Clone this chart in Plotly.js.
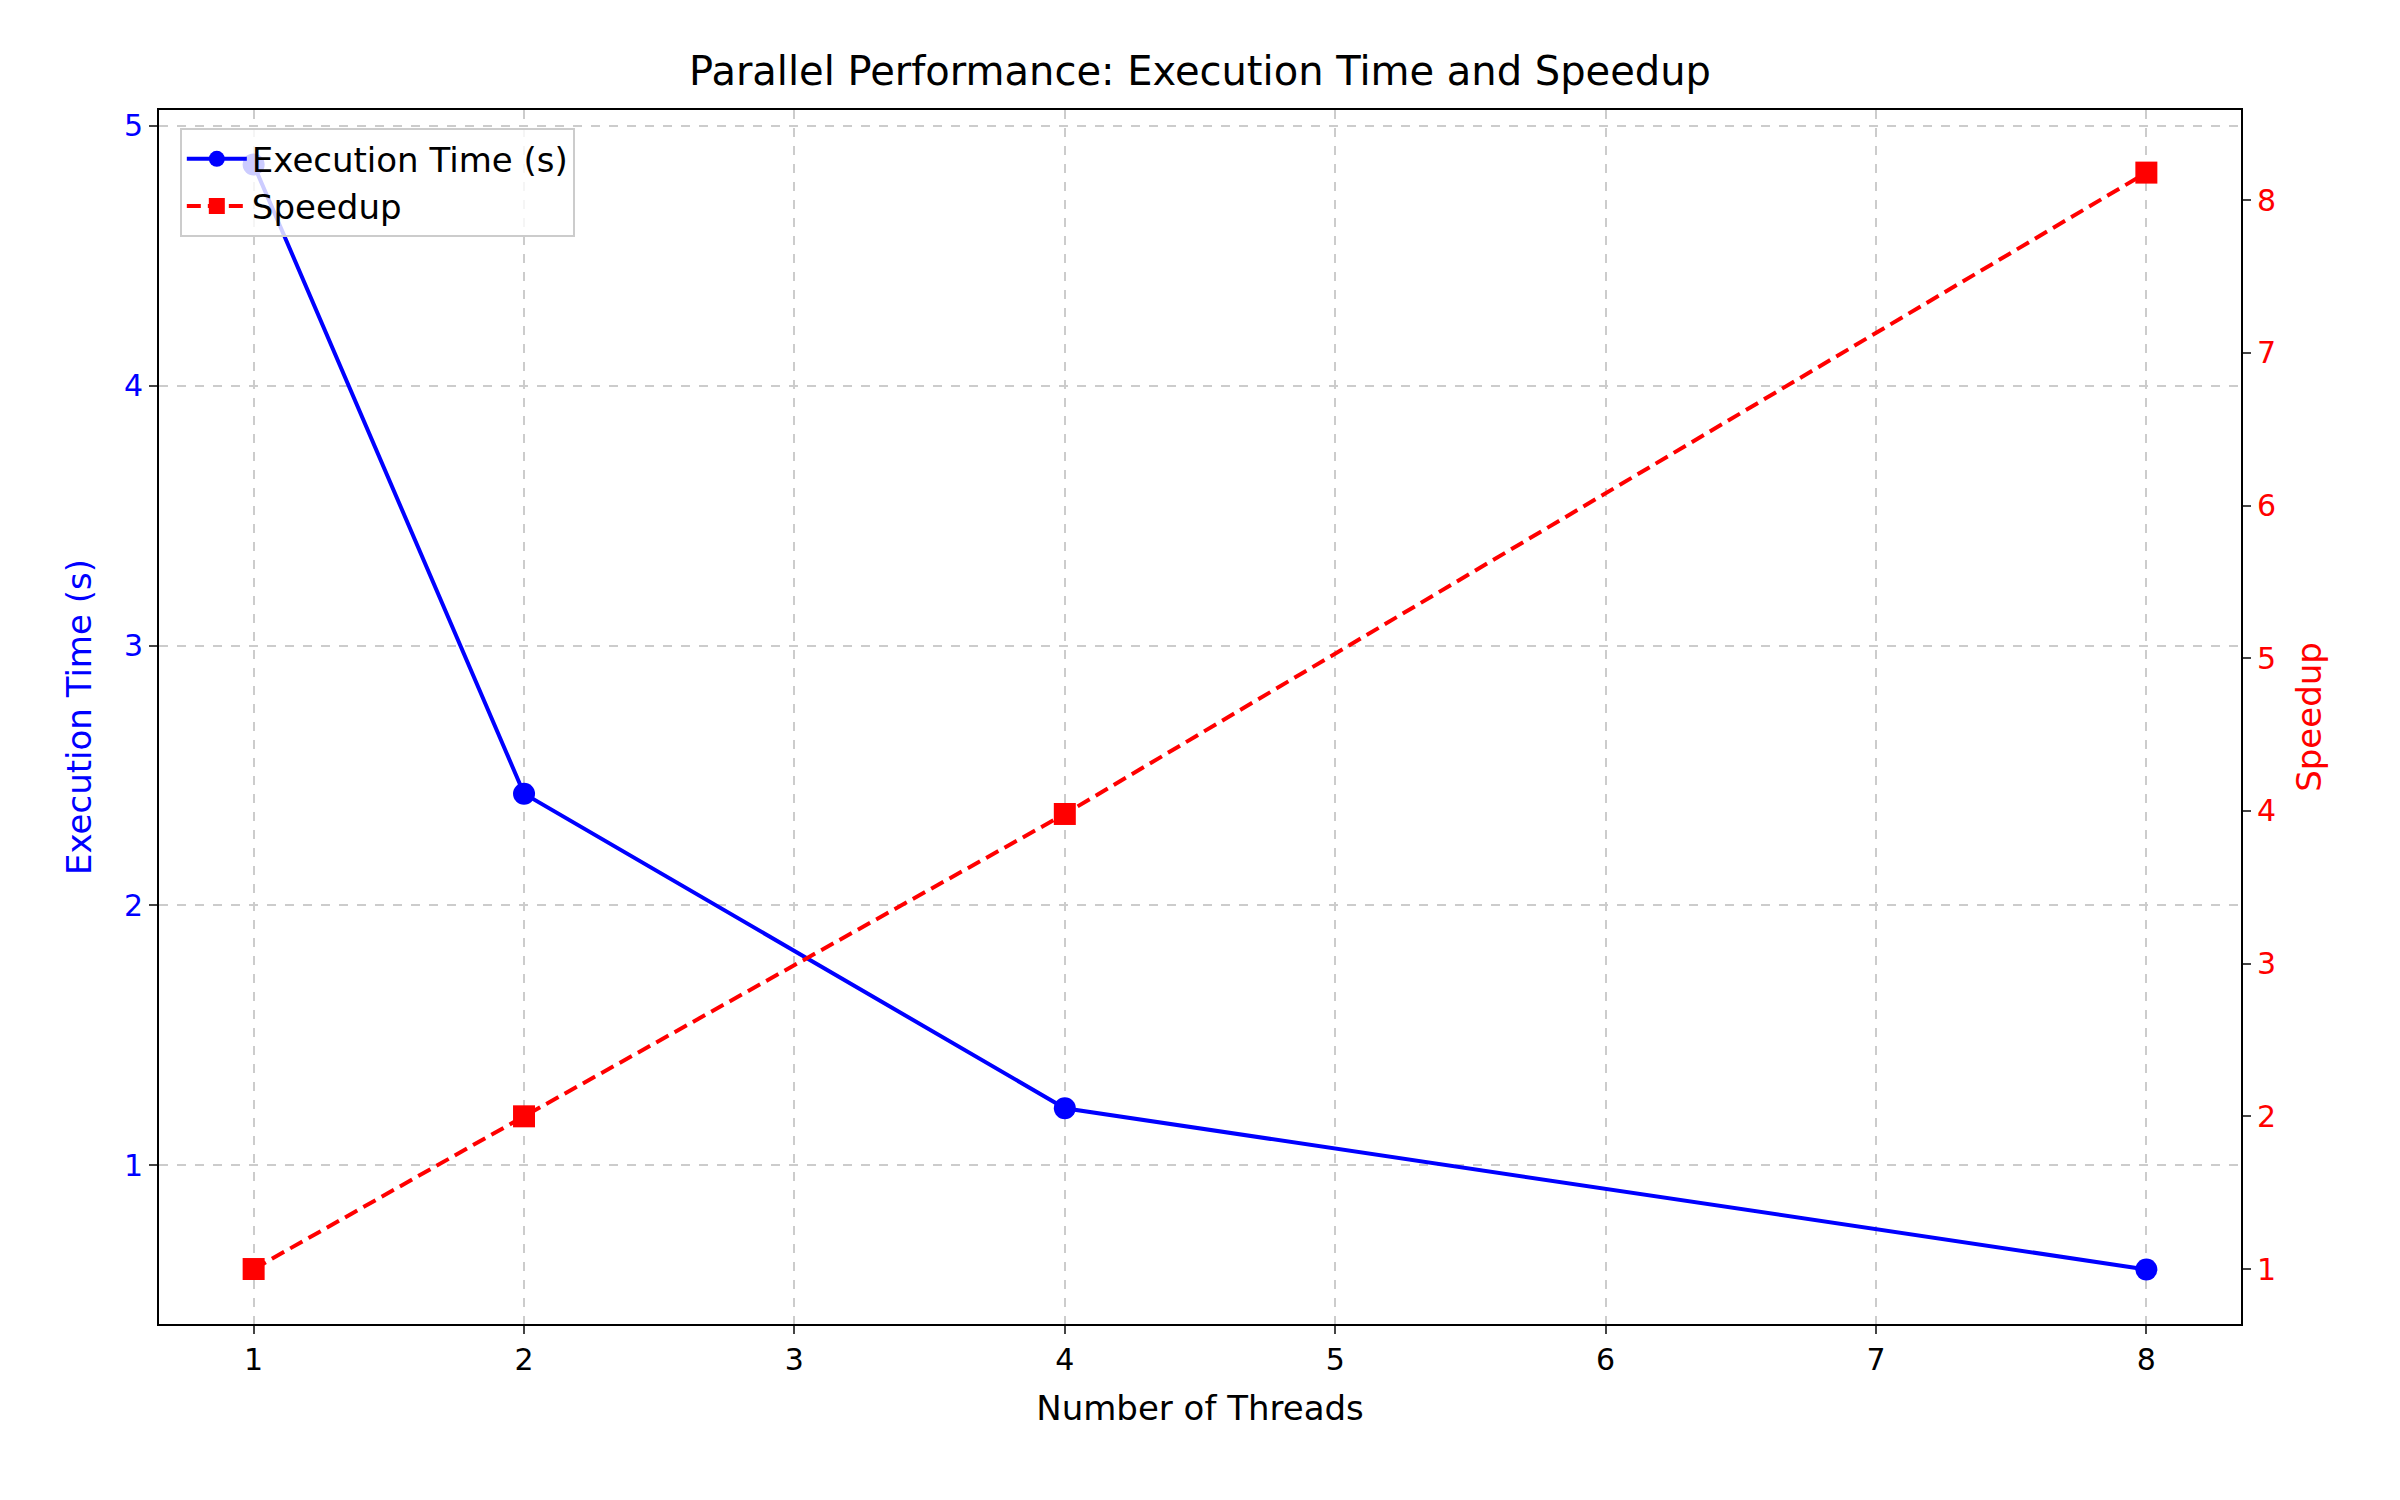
<!DOCTYPE html>
<html>
<head>
<meta charset="utf-8">
<script src="https://cdn.plot.ly/plotly-3.0.1.min.js"></script>
<style>html,body{margin:0;padding:0;background:#fff}#chart{width:2400px;height:1500px}</style>
</head>
<body>
<div id="chart"></div>
<script>
// ---- Data ----
const threads = [1, 2, 4, 8];
const execTime = [4.85, 2.43, 1.22, 0.6];
const speedup = [1.0, 2.0, 3.98, 8.18];
const xTicks = [1, 2, 3, 4, 5, 6, 7, 8];

const grid = '#cccccc';
const font = 'DejaVu Sans, sans-serif';

const timeTrace = {
  x: threads, y: execTime, name: 'Execution Time (s)',
  type: 'scatter', mode: 'lines+markers',
  line: { color: '#0000ff', width: 4 },
  marker: { color: '#0000ff', size: 22, symbol: 'circle' }
};

const speedupTrace = {
  x: threads, y: speedup, name: 'Speedup', yaxis: 'y2',
  type: 'scatter', mode: 'lines+markers',
  line: { color: '#ff0000', width: 4, dash: '14px,7px' },
  marker: { color: '#ff0000', size: 22, symbol: 'square' }
};

const layout = {
  width: 2400, height: 1500,
  paper_bgcolor: '#fff', plot_bgcolor: '#fff',
  font: { family: font, size: 30, color: '#000' },
  margin: { l: 159, r: 159, t: 110, b: 176 },
  title: { text: 'Parallel Performance: Execution Time and Speedup', font: { size: 40 }, x: 0.5, y: 0.953, yanchor: 'middle' },
  showlegend: true,
  legend: {
    x: 0.01, y: 0.985, xanchor: 'left', yanchor: 'top',
    bgcolor: 'rgba(255,255,255,0.8)', bordercolor: '#cccccc', borderwidth: 2,
    font: { size: 34 }, itemwidth: 60
  },
  xaxis: {
    range: [0.65, 8.35], tickvals: xTicks,
    showgrid: true, gridcolor: grid, griddash: 'dash', gridwidth: 1.5,
    showline: true, linecolor: '#000', linewidth: 2, mirror: true,
    ticks: 'outside', ticklen: 8, tickwidth: 1.5, zeroline: false,
    title: { text: 'Number of Threads', font: { size: 34 }, standoff: 20 }
  },
  yaxis: {
    range: [0.39, 5.06], tickvals: [1, 2, 3, 4, 5],
    showgrid: true, gridcolor: grid, griddash: 'dash', gridwidth: 1.5,
    showline: true, linecolor: '#000', linewidth: 2,
    ticks: 'outside', ticklen: 8, tickwidth: 1.5, zeroline: false,
    tickfont: { color: '#0000ff', size: 30 },
    title: { text: 'Execution Time (s)', font: { color: '#0000ff', size: 34 }, standoff: 22 }
  },
  yaxis2: {
    overlaying: 'y', side: 'right',
    range: [0.64, 8.59], tickvals: [1, 2, 3, 4, 5, 6, 7, 8],
    showgrid: false, showline: true, linecolor: '#000', linewidth: 2,
    ticks: 'outside', ticklen: 8, tickwidth: 1.5, zeroline: false,
    tickfont: { color: '#ff0000', size: 30 },
    title: { text: 'Speedup', font: { color: '#ff0000', size: 34 }, standoff: 22 }
  }
};

Plotly.newPlot('chart', [timeTrace, speedupTrace], layout, { displayModeBar: false });
</script>
</body>
</html>
